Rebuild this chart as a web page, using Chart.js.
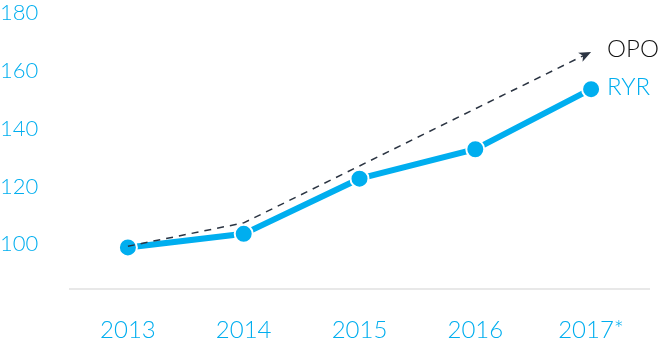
<!DOCTYPE html>
<html>
<head>
<meta charset="utf-8">
<script src="https://cdn.jsdelivr.net/npm/chart.js@4.4.0/dist/chart.umd.min.js"></script>
<style>
  html, body { margin: 0; padding: 0; background: #fff; }
  #wrap { width: 660px; height: 345px; position: relative; }
</style>
</head>
<body>
<div id="wrap"><canvas id="chart"></canvas></div>
<script>
// ---- data ----
const years = ["2013", "2014", "2015", "2016", "2017*"];
const opoValues = [99.3, 107.4, 127.1, 146.9, 166.6];
const ryrValues = [98.9, 103.6, 122.7, 132.9, 153.7];
const yTicks = [100, 120, 140, 160, 180];
const seriesNames = ["OPO", "RYR"];

const BLUE = "#00aeef";
const DARK = "#2b3442";
const FONT = "Lato, 'Open Sans', sans-serif";

/* -------------------------------------------------------
   End labels + arrowhead on the dashed line
------------------------------------------------------- */
const endDecor = {
    id: "endDecor",
    afterDatasetsDraw(chart) {
        const ctx = chart.ctx;
        ctx.save();
        chart.data.datasets.forEach((ds, i) => {
            const pts = chart.getDatasetMeta(i).data;
            const last = pts[pts.length - 1];
            const prev = pts[pts.length - 2];

            if (ds.arrow) {
                const ang = Math.atan2(last.y - prev.y, last.x - prev.x);
                const len = 12, half = 5;
                ctx.save();
                ctx.translate(last.x, last.y);
                ctx.rotate(ang);
                ctx.fillStyle = ds.borderColor;
                ctx.beginPath();
                ctx.moveTo(0, 0);
                ctx.lineTo(-len, -half);
                ctx.lineTo(-len + 3, 0);
                ctx.lineTo(-len, half);
                ctx.closePath();
                ctx.fill();
                ctx.restore();
            }

            ctx.font = "300 24px " + FONT;
            ctx.fillStyle = ds.labelColor;
            ctx.textAlign = "left";
            ctx.textBaseline = "middle";
            ctx.fillText(ds.label, last.x + 16, last.y + ds.labelDy);
        });
        ctx.restore();
    }
};

const ctx = document.getElementById("chart");

new Chart(ctx, {
    type: "line",
    data: {
        labels: years,
        datasets: [
            {
                label: seriesNames[0],
                data: opoValues,
                borderColor: DARK,
                borderWidth: 1.5,
                borderDash: [7, 6],
                pointRadius: 0,
                tension: 0,
                fill: false,
                arrow: true,
                labelColor: "#111",
                labelDy: -3
            },
            {
                label: seriesNames[1],
                data: ryrValues,
                borderColor: BLUE,
                borderWidth: 6,
                pointRadius: 9,
                pointBackgroundColor: BLUE,
                pointBorderColor: "#fff",
                pointBorderWidth: 2,
                tension: 0,
                fill: false,
                labelColor: BLUE,
                labelDy: -2
            }
        ]
    },
    options: {
        responsive: true,
        maintainAspectRatio: false,
        animation: false,
        layout: { padding: { left: 0, right: 11, top: 0, bottom: 2 } },
        plugins: {
            legend: { display: false },
            tooltip: { enabled: false }
        },
        scales: {
            x: {
                offset: true,
                grid: { display: false, drawTicks: false },
                border: { display: true, color: "#e8e8e8", width: 2 },
                afterFit: s => { s.height = 54; },
                ticks: {
                    color: BLUE,
                    font: { family: FONT, size: 24, weight: "300" },
                    padding: 27,
                    maxRotation: 0
                }
            },
            y: {
                min: 84.5,
                max: 180,
                grid: { display: false, drawTicks: false },
                border: { display: false },
                afterBuildTicks: s => { s.ticks = yTicks.map(v => ({ value: v })); },
                afterFit: s => { s.width = 70; },
                ticks: {
                    color: BLUE,
                    font: { family: FONT, size: 22, weight: "300" },
                    padding: 0,
                    crossAlign: "far"
                }
            }
        }
    },
    plugins: [endDecor]
});
</script>
</body>
</html>
